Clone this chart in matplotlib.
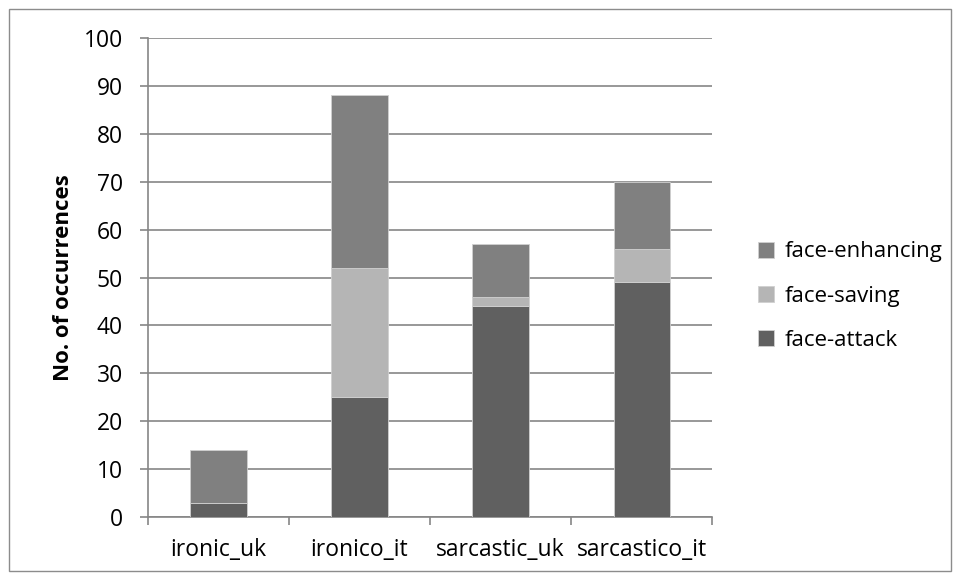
import numpy as np
import matplotlib.pyplot as plt
from matplotlib.patches import Rectangle

plt.rcParams['font.family'] = ['Open Sans', 'DejaVu Sans']

categories = ['ironic_uk', 'ironico_it', 'sarcastic_uk', 'sarcastico_it']
face_attack = [3, 25, 44, 49]
face_saving = [0, 27, 2, 7]
face_enhancing = [11, 36, 11, 14]

c_attack = '#606060'
c_saving = '#b5b5b5'
c_enh = '#808080'
fs = 16.5

fig = plt.figure(figsize=(9.6, 5.81), dpi=100)
ax = fig.add_axes([0.154, 0.110, 0.588, 0.8246])

# outer chart border
fig.patches.append(Rectangle((9 / 960, 10 / 581), 942 / 960, 562 / 581,
                             transform=fig.transFigure, fill=False,
                             edgecolor='#8c8c8c', linewidth=1.0))

x = np.arange(len(categories))
w = 0.4
attack = np.array(face_attack)
saving = np.array(face_saving)
enh = np.array(face_enhancing)

b1 = ax.bar(x, attack, w, color=c_attack, edgecolor='#d0d0d0', linewidth=0.6,
            label='face-attack', zorder=3)
b2 = ax.bar(x, saving, w, bottom=attack, color=c_saving, edgecolor='#d0d0d0',
            linewidth=0.6, label='face-saving', zorder=3)
b3 = ax.bar(x, enh, w, bottom=attack + saving, color=c_enh, edgecolor='#d0d0d0',
            linewidth=0.6, label='face-enhancing', zorder=3)

ax.set_xlim(-0.5, len(categories) - 0.5)
ax.set_ylim(0, 100)
ax.set_yticks(range(0, 101, 10))
ax.tick_params(axis='y', labelsize=fs, length=6, color='#868686', width=1.2, pad=12)
ax.yaxis.grid(True, color='#868686', linewidth=1.2, zorder=0)
ax.set_axisbelow(True)

# category labels centred, tick marks between categories
ax.set_xticks(x)
ax.set_xticklabels(categories, fontsize=fs)
ax.tick_params(axis='x', length=0, pad=15)
ax.set_xticks(np.arange(-0.5, len(categories)), minor=True)
ax.tick_params(axis='x', which='minor', length=6, color='#868686', width=1.2)

for s in ['top', 'right']:
    ax.spines[s].set_visible(False)
for s in ['left', 'bottom']:
    ax.spines[s].set_color('#868686')
    ax.spines[s].set_linewidth(1.2)

ax.set_ylabel('No. of occurrences', fontsize=16, fontweight='bold')
ax.yaxis.set_label_coords(-0.13, 0.5)

handles = [b3, b2, b1]
ax.legend(handles, [h.get_label() for h in handles], loc='center left',
          bbox_to_anchor=(0.769, 0.49), bbox_transform=fig.transFigure,
          frameon=False, fontsize=16, handlelength=0.72, handleheight=0.72,
          labelspacing=1.05, handletextpad=0.45)

fig.savefig('out.png', dpi=100)
